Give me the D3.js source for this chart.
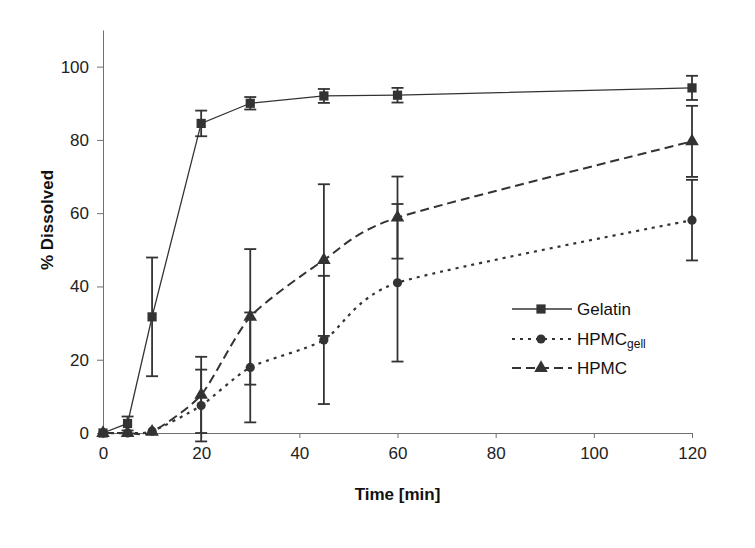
<!DOCTYPE html>
<html>
<head>
<meta charset="utf-8">
<script src="https://cdn.jsdelivr.net/npm/d3@7"></script>
<style>
  body { margin: 0; background: #fff; }
  svg { display: block; font-family: "Liberation Sans", Arial, sans-serif; }
</style>
</head>
<body>
<div id="chart"></div>
<script>
// sampling times (min)
var times = [0, 5, 10, 20, 30, 45, 60, 120];

// % dissolved
var gelatin     = [0, 2.6, 31.7, 84.5, 90.0, 92.0, 92.2, 94.2];
var gelatinErr  = [0, 1.9, 16.2, 3.5, 1.7, 1.9, 2.0, 3.3];
var hpmcGell    = [0, 0, 0.5, 7.5, 17.9, 25.4, 41.0, 58.1];
var hpmcGellErr = [0, 0, 0.3, 9.8, 15.0, 17.5, 21.5, 11.0];
var hpmc        = [0, 0, 0.3, 10.4, 31.7, 47.2, 58.8, 79.6];
var hpmcErr     = [0, 0, 0.2, 10.4, 18.5, 20.7, 11.2, 9.7];

var xTicks = [0, 20, 40, 60, 80, 100, 120];
var yTicks = [0, 20, 40, 60, 80, 100];

var totalWidth = 755;
var totalHeight = 548;
var margin = { top: 30, right: 63, bottom: 115, left: 103 };
var width = totalWidth - margin.left - margin.right;
var height = totalHeight - margin.top - margin.bottom;

var ink = '#333333';
var axisColor = '#707070';

var svg = d3.select('#chart').append('svg')
    .attr('width', totalWidth)
    .attr('height', totalHeight);

var g = svg.append('g')
    .attr('transform', 'translate(' + margin.left + ',' + margin.top + ')');

var xScale = d3.scaleLinear().domain([0, 120]).range([0, width]);
var yScale = d3.scaleLinear().domain([0, 110]).range([height, 0]);

// axes
var xAxis = d3.axisBottom(xScale).tickValues(xTicks).tickSizeInner(5).tickSizeOuter(0).tickPadding(9);
var xAxisGroup = g.append('g').attr('transform', 'translate(0,' + height + ')').call(xAxis);
xAxisGroup.selectAll('path, line').attr('stroke', axisColor);
xAxisGroup.selectAll('text').attr('fill', '#222').attr('font-size', 17);

var yAxis = d3.axisLeft(yScale).tickValues(yTicks).tickSizeInner(6).tickSizeOuter(0).tickPadding(8);
var yAxisGroup = g.append('g').call(yAxis);
yAxisGroup.selectAll('path, line').attr('stroke', axisColor);
yAxisGroup.selectAll('text').attr('fill', '#222').attr('font-size', 17);

svg.append('text')
    .attr('x', margin.left + xScale(60))
    .attr('y', 500)
    .attr('text-anchor', 'middle')
    .attr('font-size', 17)
    .attr('font-weight', 'bold')
    .attr('fill', '#111')
    .text('Time [min]');

svg.append('text')
    .attr('transform', 'translate(53,220) rotate(-90)')
    .attr('text-anchor', 'middle')
    .attr('font-size', 17)
    .attr('font-weight', 'bold')
    .attr('fill', '#111')
    .text('% Dissolved');

var series = [
    { name: 'Gelatin', values: gelatin, err: gelatinErr, symbol: d3.symbolSquare, size: 85,
      dash: null, width: 1.3, curve: d3.curveLinear },
    { name: 'HPMCgell', values: hpmcGell, err: hpmcGellErr, symbol: d3.symbolCircle, size: 66,
      dash: '3,5', width: 2.2, curve: d3.curveCardinal.tension(0.3) },
    { name: 'HPMC', values: hpmc, err: hpmcErr, symbol: d3.symbolTriangle, size: 80,
      dash: '9,5', width: 2, curve: d3.curveCardinal.tension(0.3) }
];

// error bars first so markers sit on top
series.forEach(function(s) {
    var pts = times.map(function(t, i) { return { t: t, v: s.values[i], e: s.err[i] }; })
        .filter(function(d) { return d.e > 1; });
    var eb = g.append('g').attr('stroke', ink).attr('stroke-width', 1.8);
    eb.selectAll('line.v').data(pts).enter().append('line')
        .attr('x1', d => xScale(d.t)).attr('x2', d => xScale(d.t))
        .attr('y1', d => yScale(d.v - d.e)).attr('y2', d => yScale(d.v + d.e));
    [-1, 1].forEach(function(sign) {
        eb.selectAll(null).data(pts).enter().append('line')
            .attr('x1', d => xScale(d.t) - 6).attr('x2', d => xScale(d.t) + 6)
            .attr('y1', d => yScale(d.v + sign * d.e)).attr('y2', d => yScale(d.v + sign * d.e));
    });
});

series.forEach(function(s) {
    var line = d3.line()
        .x(function(d, i) { return xScale(times[i]); })
        .y(function(d) { return yScale(d); })
        .curve(s.curve);
    g.append('path')
        .datum(s.values)
        .attr('d', line)
        .attr('fill', 'none')
        .attr('stroke', ink)
        .attr('stroke-width', s.width)
        .attr('stroke-dasharray', s.dash);

    g.selectAll(null)
        .data(s.values)
        .enter()
        .append('path')
        .attr('d', d3.symbol().type(s.symbol).size(s.size))
        .attr('transform', function(d, i) { return 'translate(' + xScale(times[i]) + ',' + yScale(d) + ')'; })
        .attr('fill', ink);
});

// legend
var legendRows = [309, 339, 368];
series.forEach(function(s, i) {
    var row = svg.append('g').attr('transform', 'translate(512,' + legendRows[i] + ')');
    row.append('line')
        .attr('x1', 0).attr('x2', 60)
        .attr('stroke', ink)
        .attr('stroke-width', s.width)
        .attr('stroke-dasharray', s.dash);
    row.append('path')
        .attr('d', d3.symbol().type(s.symbol).size(s.size))
        .attr('transform', 'translate(29,0)')
        .attr('fill', ink);
    var label = row.append('text')
        .attr('x', 65)
        .attr('y', 6)
        .attr('font-size', 17)
        .attr('fill', '#111');
    if (s.name === 'HPMCgell') {
        label.append('tspan').text('HPMC');
        label.append('tspan').attr('font-size', 12).attr('dy', 3).text('gell');
    } else {
        label.text(s.name);
    }
});
</script>
</body>
</html>
